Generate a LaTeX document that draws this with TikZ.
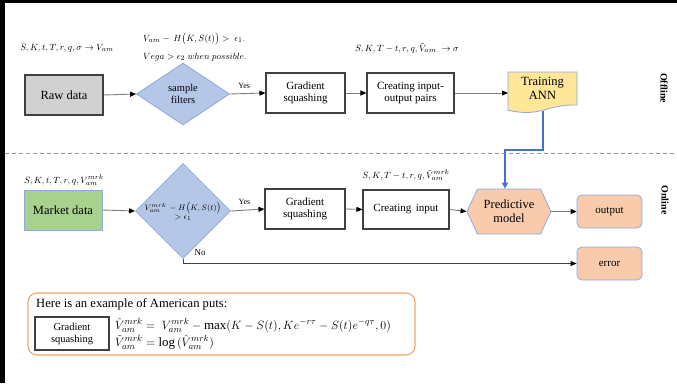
\documentclass[tikz,border=0pt]{standalone}
\usepackage{fontspec}
\setmainfont{Liberation Serif}
\usetikzlibrary{arrows.meta,shapes.geometric,shapes.symbols}
\definecolor{diafill}{HTML}{B4C7E7}
\definecolor{diaedge}{HTML}{8FAADC}
\definecolor{greenfill}{HTML}{A9D18E}
\definecolor{yellowfill}{HTML}{FFE699}
\definecolor{peach}{HTML}{F8CBAD}
\definecolor{bluearrow}{HTML}{4472C4}
\definecolor{orangeedge}{HTML}{F4A56A}
\definecolor{lineg}{HTML}{7F7F7F}
\definecolor{boxedge}{HTML}{404040}
\tikzset{
  procbox/.style={draw=boxedge,line width=1.1pt,fill=white,inner sep=1pt,align=center,font=\fontsize{11}{12.5}\selectfont},
  decision/.style={diamond,draw=diaedge,line width=0.8pt,fill=diafill,inner sep=0pt,align=center},
  endbox/.style={draw=diaedge,line width=0.8pt,fill=peach,rounded corners=5pt,minimum width=65pt,minimum height=33pt,font=\fontsize{11}{13}\selectfont},
  conn/.style={draw=lineg,line width=0.9pt,-{Triangle[black,length=6pt,width=5pt]}},
  lbl/.style={font=\fontsize{8}{9}\selectfont,inner sep=0pt},
  mathlbl/.style={font=\fontsize{9.5}{10}\selectfont,inner sep=0pt},
  sidelbl/.style={font=\bfseries\fontsize{10}{11}\selectfont,rotate=-90,inner sep=0pt}
}
\begin{document}
\begin{tikzpicture}[x=1pt,y=-1pt]
\useasboundingbox (0,0) rectangle (677,383);
\fill[white] (0,0) rectangle (677,383);
\fill[black] (0,0) rectangle (677,3);
\fill[black] (0,0) rectangle (5,383);

% dashed separator
\draw[draw=lineg!80,line width=0.8pt,dash pattern=on 4pt off 3pt] (5,153) -- (677,153);

% ---------- Offline row ----------
\node[procbox,fill=black!18,minimum width=78pt,minimum height=40pt,font=\fontsize{12.5}{14}\selectfont] (raw) at (64,95) {Raw data};
\node[decision,minimum width=93pt,minimum height=62pt,font=\fontsize{10.5}{12}\selectfont] (filt) at (183,94) {sample\\filters};
\node[procbox,minimum width=79pt,minimum height=40pt] (gs1) at (305.5,93) {Gradient\\squashing};
\node[procbox,minimum width=87pt,minimum height=40pt] (cio) at (410.5,93) {Creating input-\\output pairs};
% Training ANN (document shape)
\draw[draw=diaedge,line width=0.8pt,fill=yellowfill] (508,72) -- (577,72) -- (577,104.9) .. controls (542.5,104.9) and (542.5,117.4) .. (508,110.3) -- cycle;
\node[font=\fontsize{12.5}{14}\selectfont,align=center,minimum width=69pt,minimum height=33pt,inner sep=0pt] (ann) at (542.5,88.5) {Training\\ANN};
\coordinate (annbot) at (543,111);

\draw[conn] (raw.east) -- (filt.west);
\draw[conn] (filt.east) -- node[lbl,above=5pt,pos=0.4] {Yes} (gs1.west);
\draw[conn] (gs1.east) -- (cio.west);
\draw[conn] (cio.east) -- (cio.east -| 508,0);

\node[mathlbl] (l1) at (67,48) {$S,K,t,T,r,q,\sigma \rightarrow V_{am}$};
\node[mathlbl,anchor=west] (l2) at (143,39) {$V_{am} -\, H\big(K,S(t)\big) >\ \epsilon_1.$};
\node[mathlbl,anchor=west] (l3) at (143,57) {$Vega > \epsilon_2\ when\ possible.$};
\node[mathlbl] (l4) at (407,48) {$S,K,T-t,r,q,\tilde{V}_{am}\ \rightarrow \sigma$};

\node[sidelbl] (off) at (664,88) {Offline};

% ---------- Online row ----------
\node[procbox,draw=diaedge,line width=0.9pt,fill=greenfill,minimum width=78pt,minimum height=40pt,font=\fontsize{12.5}{14}\selectfont] (mkt) at (63,210) {Market data};
\node[decision,minimum width=95pt,minimum height=62pt,font=\fontsize{8}{10}\selectfont] (filt2) at (183,211) {$V_{am}^{mrk}\,-H\big(K,S(t)\big)$\\[-1pt]$>\epsilon_1$};
\node[procbox,minimum width=80pt,minimum height=40pt] (gs2) at (305,209) {Gradient\\squashing};
\node[procbox,minimum width=86pt,minimum height=39pt] (ci) at (406,209.5) {Creating\, input};
\node[signal,signal to=east and west,signal pointer angle=130,draw=diaedge,line width=0.8pt,fill=peach,minimum width=84pt,minimum height=45pt,inner sep=0pt,align=center,font=\fontsize{12.5}{14}\selectfont] (pm) at (509,211.5) {Predictive\\model};
\node[endbox] (out) at (609.5,211.5) {output};
\node[endbox] (err) at (609.5,263.5) {error};

\draw[conn] (mkt.east) -- (filt2.west);
\draw[conn] (filt2.east) -- node[lbl,above=5pt,pos=0.4] {Yes} (gs2.west);
\draw[conn] (gs2.east) -- (ci.west);
\draw[conn] (ci.east) -- (pm.west);
\draw[conn] (pm.east) -- (out.west);
\draw[conn,draw=boxedge] (filt2.south) |- (err.west);
\node[lbl,font=\fontsize{9}{10}\selectfont] (no) at (200,253) {No};

\draw[draw=bluearrow,line width=1.3pt,-{Triangle[bluearrow,length=6pt,width=6pt]}] (annbot) -- (543,150) -- (505,150) -- (pm.north -| 505,0);

\node[mathlbl] (l5) at (64,180) {$S,K,t,T,r,q,V_{am}^{mrk}$};
\node[mathlbl] (l6) at (406,175) {$S,K,T-t,r,q,\tilde{V}_{am}^{mrk}$};

\node[sidelbl] (on) at (665,200) {Online};

% ---------- Example box ----------
\draw[draw=orangeedge,line width=1.1pt,rounded corners=9pt] (28,293) rectangle (415,355);
\node[anchor=west,inner sep=0pt,font=\fontsize{12.6}{15}\selectfont] (ex) at (36,304) {Here is an example of American puts:};
\node[procbox,minimum width=74pt,minimum height=33pt,font=\fontsize{10.5}{12}\selectfont] (gs3) at (72,333.5) {Gradient\\squashing};
\node[anchor=west,inner sep=0pt,font=\fontsize{12.9}{14}\selectfont] (eq1) at (115,325) {$\hat{V}_{am}^{mrk} =\ V_{am}^{mrk} - \max(K-S(t),Ke^{-r\tau}-S(t)e^{-q\tau},0)$};
\node[anchor=west,inner sep=0pt,font=\fontsize{12.9}{14}\selectfont] (eq2) at (115,342) {$\tilde{V}_{am}^{mrk} = \log\big(\hat{V}_{am}^{mrk}\big)$};
\end{tikzpicture}
\end{document}
